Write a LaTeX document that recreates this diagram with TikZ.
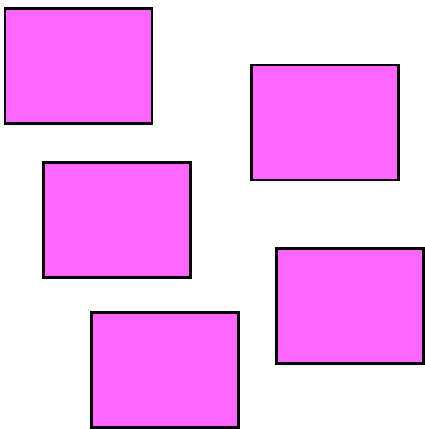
\documentclass[tikz,border=0pt]{standalone}
\usepackage{tikz}
\usetikzlibrary{positioning}
\definecolor{pinkfill}{HTML}{FF66FF}

\begin{document}
\begin{tikzpicture}[
  x=1pt, y=-1pt,
  box/.style={draw, fill=pinkfill, line width=2.5pt, minimum width=147pt, minimum height=115pt, inner sep=0pt}
]
  \useasboundingbox (0, 0) rectangle (425, 429);
  \node[box] (boxa) at (78.5, 66) {};
  \node[box] (boxb) at (325, 122.5) {};
  \node[box] (boxc) at (117, 220) {};
  \node[box] (boxd) at (350, 306) {};
  \node[box] (boxe) at (165, 370) {};
\end{tikzpicture}
\end{document}
